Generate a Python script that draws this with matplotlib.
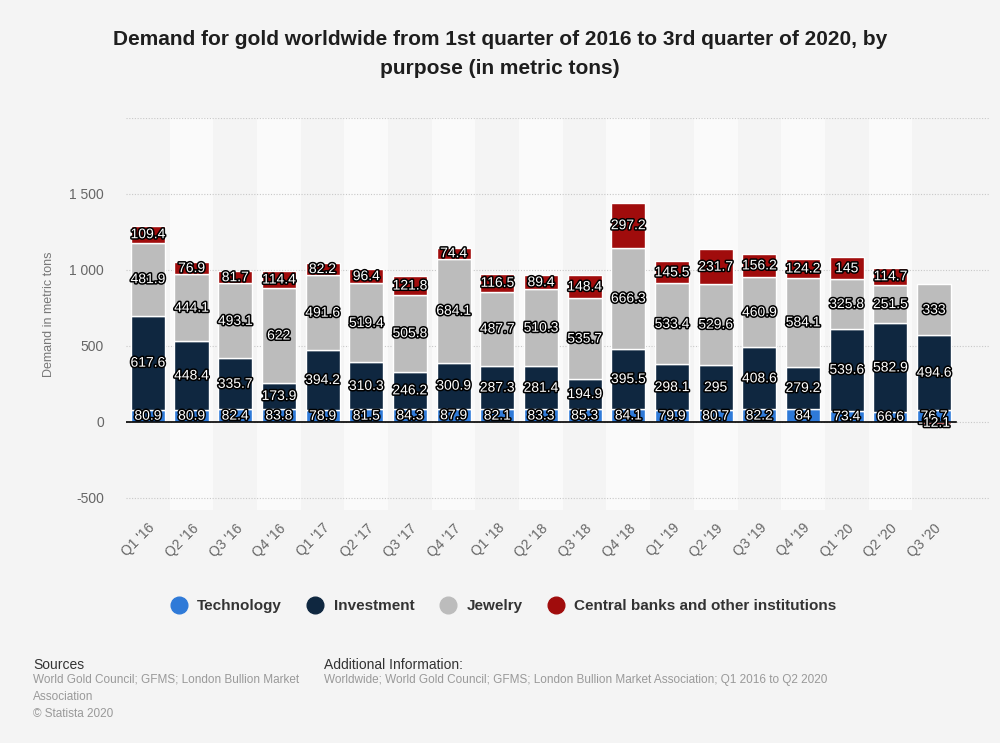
import numpy as np
import matplotlib
matplotlib.use("Agg")
import matplotlib.pyplot as plt
import matplotlib.patheffects as pe
from matplotlib.lines import Line2D

plt.rcParams['font.family'] = ['Liberation Sans', 'DejaVu Sans']

quarters = ["Q1 '16", "Q2 '16", "Q3 '16", "Q4 '16", "Q1 '17", "Q2 '17", "Q3 '17", "Q4 '17",
            "Q1 '18", "Q2 '18", "Q3 '18", "Q4 '18", "Q1 '19", "Q2 '19", "Q3 '19", "Q4 '19",
            "Q1 '20", "Q2 '20", "Q3 '20"]
technology = [80.9, 80.9, 82.4, 83.8, 78.9, 81.5, 84.3, 87.9, 82.1, 83.3, 85.3, 84.1,
              79.9, 80.7, 82.2, 84, 73.4, 66.6, 76.7]
investment = [617.6, 448.4, 335.7, 173.9, 394.2, 310.3, 246.2, 300.9, 287.3, 281.4, 194.9, 395.5,
              298.1, 295, 408.6, 279.2, 539.6, 582.9, 494.6]
jewelry = [481.9, 444.1, 493.1, 622, 491.6, 519.4, 505.8, 684.1, 487.7, 510.3, 535.7, 666.3,
           533.4, 529.6, 460.9, 584.1, 325.8, 251.5, 333]
central_banks = [109.4, 76.9, 81.7, 114.4, 82.2, 96.4, 121.8, 74.4, 116.5, 89.4, 148.4, 297.2,
                 145.5, 231.7, 156.2, 124.2, 145, 114.7, -12.1]

series = [("Technology", technology, "#2f7ad8"),
          ("Investment", investment, "#0f2740"),
          ("Jewelry", jewelry, "#bcbcbc"),
          ("Central banks and other institutions", central_banks, "#a00c0c")]

bg = "#f4f4f4"
fig = plt.figure(figsize=(10, 7.43), dpi=100, facecolor=bg)
ax = fig.add_axes([0.126, 0.3136, 0.864, 0.5276], facecolor=bg)

x = np.arange(len(quarters))
n = len(quarters)

# alternating column bands
for i in range(n):
    if i % 2 == 1:
        ax.axvspan(i - 0.5, i + 0.5, color="#fafafa", zorder=0, lw=0)

ax.set_ylim(-580, 2000)
ax.set_xlim(-0.5, 19.28)
for yv in [-500, 0, 500, 1000, 1500, 2000]:
    ax.axhline(yv, color="#c8c8c8", lw=0.8, ls=(0, (1, 1.5)), zorder=1)

pos = np.zeros(n)
neg = np.zeros(n)
stroke = [pe.withStroke(linewidth=2.2, foreground="black")]
for name, vals, col in series:
    vals = np.array(vals)
    bottoms = np.where(vals >= 0, pos, neg)
    ax.bar(x, vals, 0.78, bottom=bottoms, color=col, edgecolor="white", lw=1, zorder=3)
    for xi, v, b in zip(x, vals, bottoms):
        ax.text(xi, b + v / 2, f"{v:g}", ha="center", va="center", fontsize=10,
                color="white", path_effects=stroke, zorder=5)
    pos = np.where(vals >= 0, pos + vals, pos)
    neg = np.where(vals < 0, neg + vals, neg)

ax.plot([-0.5, 18.5], [0, 0], color="black", lw=1.2, zorder=4)

ax.set_yticks([-500, 0, 500, 1000, 1500])
ax.set_yticklabels(["-500", "0", "500", "1 000", "1 500"])
ax.set_xticks(x)
ax.set_xticklabels(quarters, rotation=45, ha="right", rotation_mode="anchor")
ax.tick_params(axis="both", length=0, colors="#666666", labelsize=10)
ax.tick_params(axis="y", pad=16)
ax.tick_params(axis="x", pad=8)
for s in ax.spines.values():
    s.set_visible(False)
ax.set_ylabel("Demand in metric tons", color="#777777", fontsize=9, labelpad=10)

fig.text(0.5, 0.927, "Demand for gold worldwide from 1st quarter of 2016 to 3rd quarter of 2020, by\npurpose (in metric tons)",
         ha="center", va="center", fontsize=15, fontweight="bold", color="#1e1e1e", linespacing=1.65)

handles = [Line2D([], [], marker="o", ls="", markersize=12, color=c, label=nm) for nm, _, c in series]
fig.legend(handles=handles, loc="center", bbox_to_anchor=(0.5, 0.184), ncol=4, frameon=False,
           handletextpad=0.2, columnspacing=1.2, labelcolor="#333333",
           prop={"weight": "bold", "size": 11})

fig.text(0.033, 0.105, "Sources", fontsize=10, color="#333333", va="center")
fig.text(0.033, 0.093, "World Gold Council; GFMS; London Bullion Market\nAssociation\n© Statista 2020",
         fontsize=8.5, color="#999999", va="top", linespacing=1.55)
fig.text(0.324, 0.105, "Additional Information:", fontsize=10, color="#333333", va="center")
fig.text(0.324, 0.093, "Worldwide; World Gold Council; GFMS; London Bullion Market Association; Q1 2016 to Q2 2020",
         fontsize=8.5, color="#999999", va="top")

fig.savefig("out.png", dpi=100, facecolor=bg)
